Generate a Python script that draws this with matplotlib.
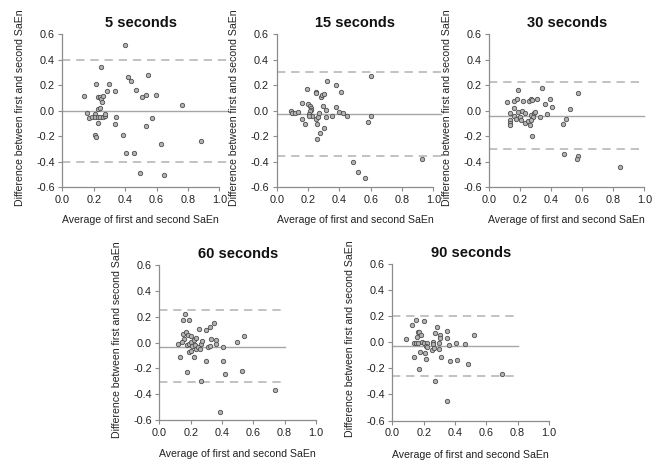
import numpy as np
import matplotlib
matplotlib.use("Agg")
import matplotlib.pyplot as plt

plt.rcParams["font.family"] = ["Liberation Sans", "DejaVu Sans"]

titles = ["5 seconds", "15 seconds", "30 seconds", "60 seconds", "90 seconds"]

# Bland-Altman points: (average, difference)
avg_5 = [0.137, 0.156, 0.173, 0.192, 0.206, 0.217, 0.206, 0.215, 0.208, 0.225, 0.242, 0.257,
         0.272, 0.270, 0.225, 0.225, 0.242, 0.246, 0.255, 0.261, 0.225, 0.240, 0.284, 0.297,
         0.337, 0.345, 0.337, 0.389, 0.404, 0.402, 0.248, 0.421, 0.440, 0.467, 0.459, 0.495,
         0.505, 0.533, 0.545, 0.533, 0.571, 0.594, 0.648, 0.626, 0.760, 0.883]
diff_5 = [0.116, -0.018, -0.059, -0.049, -0.028, 0.209, -0.194, -0.209, -0.049, -0.049, -0.049, -0.049,
          -0.039, -0.028, -0.093, 0.106, 0.106, 0.088, 0.070, 0.116, 0.013, 0.021, 0.152, 0.209,
          0.150, -0.049, -0.106, -0.188, -0.335, 0.514, 0.338, 0.266, 0.235, 0.160, -0.328, -0.488,
          0.103, 0.124, 0.281, -0.121, -0.059, 0.119, -0.500, -0.260, 0.046, -0.235]

avg_15 = [0.600, 0.323, 0.379, 0.411, 0.196, 0.249, 0.253, 0.283, 0.291, 0.302, 0.162, 0.198,
          0.215, 0.221, 0.219, 0.213, 0.091, 0.098, 0.117, 0.134, 0.206, 0.228, 0.204, 0.160,
          0.181, 0.249, 0.262, 0.272, 0.277, 0.255, 0.255, 0.304, 0.294, 0.315, 0.313, 0.351,
          0.377, 0.398, 0.421, 0.447, 0.489, 0.521, 0.562, 0.600, 0.580, 0.930]
diff_15 = [0.271, 0.230, 0.204, 0.147, 0.170, 0.147, 0.140, 0.108, 0.119, 0.129, 0.059, 0.052,
           0.039, 0.023, 0.008, -0.005, -0.003, -0.015, -0.015, -0.013, -0.028, -0.039, -0.044, -0.067,
           -0.106, -0.065, -0.052, -0.021, -0.173, -0.106, -0.219, -0.139, 0.034, 0.008, -0.052, -0.039,
           0.026, -0.008, -0.021, -0.041, -0.405, -0.483, -0.526, -0.039, -0.090, -0.375]

avg_30 = [0.183, 0.340, 0.112, 0.157, 0.181, 0.219, 0.256, 0.267, 0.273, 0.308, 0.361, 0.394,
          0.406, 0.520, 0.572, 0.161, 0.133, 0.157, 0.187, 0.209, 0.232, 0.174, 0.196, 0.206,
          0.230, 0.247, 0.267, 0.280, 0.271, 0.290, 0.295, 0.265, 0.273, 0.327, 0.372, 0.133,
          0.133, 0.133, 0.475, 0.495, 0.484, 0.572, 0.568, 0.840]
diff_30 = [0.160, 0.181, 0.065, 0.072, 0.088, 0.077, 0.072, 0.090, 0.082, 0.090, 0.054, 0.090,
           0.028, 0.013, 0.137, 0.018, -0.021, -0.039, -0.013, -0.003, -0.015, -0.067, -0.046, -0.075,
           -0.098, -0.080, -0.034, -0.049, -0.075, -0.018, -0.008, -0.111, -0.201, -0.046, -0.028, -0.075,
           -0.093, -0.111, -0.103, -0.065, -0.343, -0.356, -0.382, -0.440]

avg_60 = [0.164, 0.153, 0.187, 0.149, 0.172, 0.185, 0.200, 0.255, 0.296, 0.326, 0.349, 0.538,
          0.160, 0.145, 0.119, 0.177, 0.191, 0.204, 0.219, 0.232, 0.211, 0.226, 0.187, 0.204,
          0.234, 0.245, 0.264, 0.274, 0.262, 0.132, 0.221, 0.298, 0.309, 0.332, 0.362, 0.321,
          0.360, 0.406, 0.409, 0.421, 0.494, 0.528, 0.179, 0.268, 0.387, 0.740]
diff_60 = [0.221, 0.174, 0.174, 0.066, 0.081, 0.061, 0.053, 0.102, 0.099, 0.117, 0.154, 0.053,
           0.025, 0.001, -0.012, -0.017, -0.012, 0.004, 0.017, 0.035, -0.025, -0.022, -0.074, -0.063,
           -0.048, -0.032, -0.012, 0.014, -0.053, -0.112, -0.110, -0.141, -0.035, 0.027, 0.022, -0.030,
           -0.012, -0.037, -0.141, -0.244, 0.001, -0.221, -0.231, -0.301, -0.541, -0.365]

avg_90 = [0.153, 0.200, 0.123, 0.285, 0.351, 0.162, 0.172, 0.181, 0.155, 0.270, 0.302, 0.302,
          0.349, 0.521, 0.085, 0.136, 0.149, 0.166, 0.187, 0.202, 0.219, 0.217, 0.219, 0.257,
          0.260, 0.253, 0.266, 0.298, 0.298, 0.360, 0.409, 0.466, 0.138, 0.174, 0.209, 0.213,
          0.309, 0.370, 0.415, 0.485, 0.168, 0.274, 0.351, 0.700]
diff_90 = [0.173, 0.163, 0.132, 0.114, 0.090, 0.075, 0.075, 0.059, 0.039, 0.070, 0.059, 0.034,
           0.034, 0.054, 0.028, -0.008, -0.003, -0.005, 0.003, -0.003, -0.008, -0.028, -0.039, 0.003,
           -0.010, -0.059, -0.044, -0.008, -0.049, -0.018, -0.005, -0.010, -0.116, -0.077, -0.080, -0.126,
           -0.116, -0.147, -0.134, -0.165, -0.206, -0.299, -0.452, -0.245]

# mean difference and limits of agreement
bias = [0.0, -0.03, -0.04, -0.032, -0.028]
upper = [0.40, 0.30, 0.225, 0.252, 0.204]
lower = [-0.40, -0.355, -0.302, -0.306, -0.261]
line_end = [1.05, 1.05, 1.0, 0.8, 0.8]

averages = [avg_5, avg_15, avg_30, avg_60, avg_90]
diffs = [diff_5, diff_15, diff_30, diff_60, diff_90]

W, H = 661, 461
# axes boxes in pixels: left, top, width, height
boxes = [(62.3, 34.0, 157.0, 153.3),
         (276.7, 34.0, 156.7, 153.3),
         (489.3, 34.0, 155.0, 153.3),
         (159.3, 265.0, 156.7, 155.0),
         (392.3, 264.0, 156.7, 156.5)]

fig = plt.figure(figsize=(W / 100, H / 100), dpi=100)
axis_col = "#8c8c8c"
txt_col = "#222222"

for i in range(5):
    l, t, w, h = boxes[i]
    ax = fig.add_axes([l / W, (H - t - h) / H, w / W, h / H])
    ax.set_xlim(0, 1)
    ax.set_ylim(-0.6, 0.6)
    ax.set_xticks(np.arange(0, 1.01, 0.2))
    ax.set_yticks(np.arange(-0.6, 0.61, 0.2))
    ax.set_xticklabels([f"{v:.1f}" for v in np.arange(0, 1.01, 0.2)])
    ax.set_yticklabels([f"{v:.1f}" if abs(v) > 1e-9 else "0.0" for v in np.arange(-0.6, 0.61, 0.2)])
    for s in ["top", "right"]:
        ax.spines[s].set_visible(False)
    for s in ["left", "bottom"]:
        ax.spines[s].set_color(axis_col)
        ax.spines[s].set_linewidth(0.9)
    ax.tick_params(direction="out", length=3, width=0.8, color=axis_col,
                   labelsize=7.8, labelcolor=txt_col, pad=2.5)

    xe = [0, line_end[i]]
    ax.plot(xe, [bias[i]] * 2, color="#a6a6a6", lw=1.0, clip_on=False, zorder=2)
    ax.plot(xe, [upper[i]] * 2, color="#b8b8b8", lw=1.2, ls=(0, (5, 3.5)), clip_on=False, zorder=2)
    ax.plot(xe, [lower[i]] * 2, color="#b8b8b8", lw=1.2, ls=(0, (5, 3.5)), clip_on=False, zorder=2)

    ax.scatter(averages[i], diffs[i], s=10, facecolor="#b4b4b4", edgecolor="#4d4d4d",
               linewidth=0.6, zorder=3, clip_on=False)

    ax.set_title(titles[i], fontsize=10.5, fontweight="bold", color="#111111", pad=5)
    ax.set_ylabel("Difference between first and second SaEn", fontsize=7.6, color=txt_col)
    ax.yaxis.set_label_coords(-0.238, 0.52)
    ax.set_xlabel("Average of first and second SaEn", fontsize=7.6, color=txt_col)
    ax.xaxis.set_label_coords(0.5, -0.18 if i < 3 else -0.186)

fig.savefig("out.png", dpi=100)
